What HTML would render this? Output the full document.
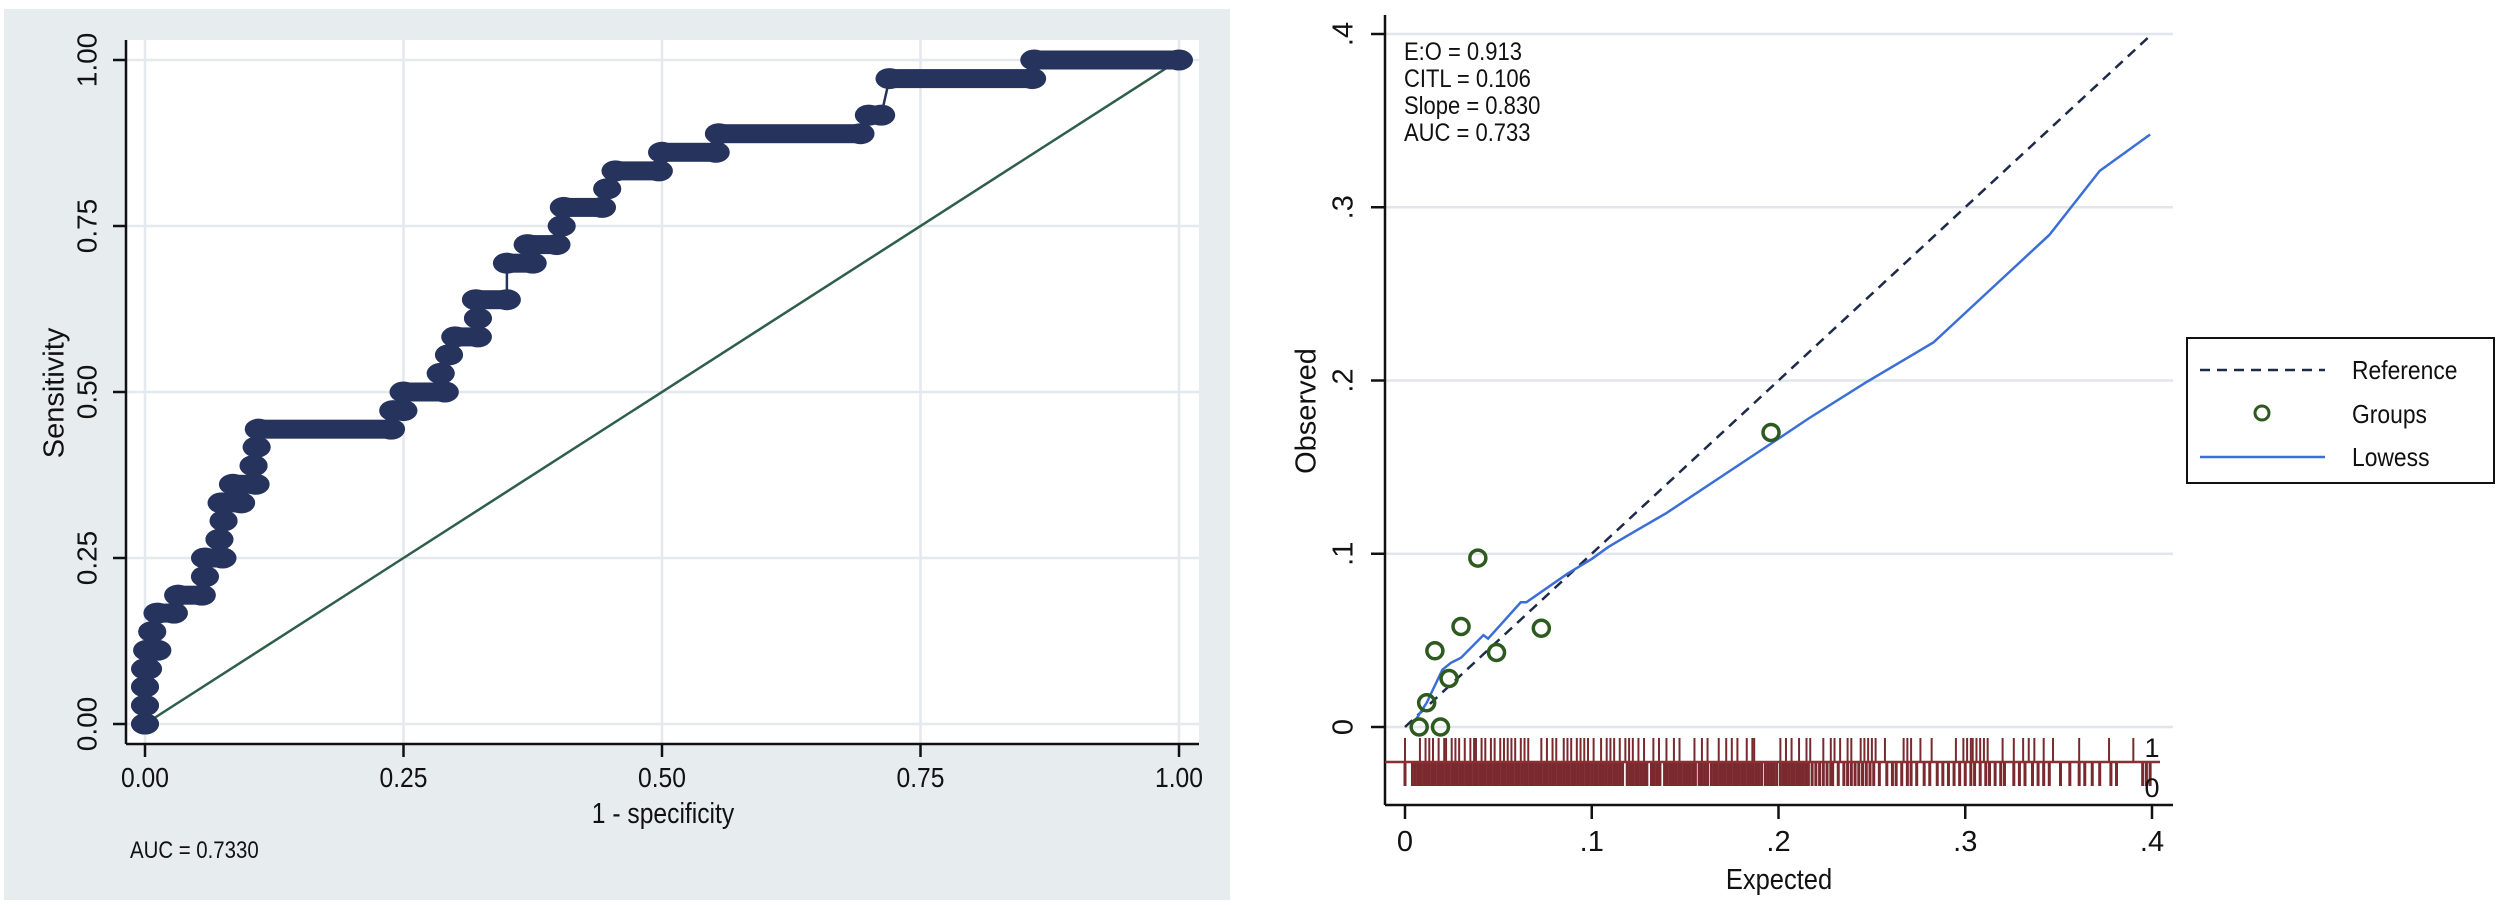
<!DOCTYPE html>
<html><head><meta charset="utf-8"><style>
html,body{margin:0;padding:0;background:#fff;}
svg{display:block;}
text{font-family:"Liberation Sans",sans-serif;fill:#111;}
</style></head><body>
<svg id="fig" width="2508" height="905" viewBox="0 0 2508 905" xmlns="http://www.w3.org/2000/svg">
  <rect x="0" y="0" width="2508" height="905" fill="#fff"/>
  <g id="roc">
    <rect x="4" y="9" width="1226" height="891" fill="#e7ecef"/>
    <rect x="126" y="40" width="1073" height="704" fill="#fff"/>
    <g id="rocGrid"></g>
    <line x1="126" y1="40" x2="126" y2="744" stroke="#111" stroke-width="2.5"/>
    <line x1="126" y1="744" x2="1199" y2="744" stroke="#111" stroke-width="2.5"/>
    <g id="rocTicks"></g>
    <line id="rocDiag" stroke="#2f5e4a" stroke-width="2.5"/>
    <g id="rocCurve"></g>
    <text x="56" y="393" font-size="29" text-anchor="middle" transform="rotate(-90 56 393)" dominant-baseline="middle">Sensitivity</text>
    <text x="663" y="823" font-size="29" text-anchor="middle" transform="translate(663 0) scale(0.85 1) translate(-663 0)">1 - specificity</text>
    <text x="130" y="858" font-size="24" transform="translate(130 0) scale(0.85 1) translate(-130 0)">AUC = 0.7330</text>
  </g>
  <g id="cal">
    <g id="calGrid"></g>
    <line x1="1385" y1="15" x2="1385" y2="805" stroke="#111" stroke-width="2.5"/>
    <line x1="1385" y1="805" x2="2173" y2="805" stroke="#111" stroke-width="2.5"/>
    <g id="calTicks"></g>
    <g id="rug"></g>
    <line id="refLine" stroke="#1e2a4a" stroke-width="2.5" stroke-dasharray="10 7"/>
    <polyline id="lowess" fill="none" stroke="#3b6fd6" stroke-width="2.5"/>
    <g id="groups"></g>
    <g font-size="25">
      <text x="1404" y="60" transform="translate(1404 0) scale(0.88 1) translate(-1404 0)">E:O = 0.913</text>
      <text x="1404" y="87" transform="translate(1404 0) scale(0.88 1) translate(-1404 0)">CITL = 0.106</text>
      <text x="1404" y="114" transform="translate(1404 0) scale(0.88 1) translate(-1404 0)">Slope = 0.830</text>
      <text x="1404" y="141" transform="translate(1404 0) scale(0.88 1) translate(-1404 0)">AUC = 0.733</text>
    </g>
    <text x="1308" y="411" font-size="29" text-anchor="middle" dominant-baseline="middle" transform="rotate(-90 1308 411)">Observed</text>
    <text x="1779" y="889" font-size="29" text-anchor="middle" transform="translate(1779 0) scale(0.88 1) translate(-1779 0)">Expected</text>
    <text x="2152" y="757" font-size="27" text-anchor="middle">1</text>
    <text x="2152" y="797" font-size="27" text-anchor="middle">0</text>
    <g>
      <rect x="2187" y="338" width="307" height="145" fill="#fff" stroke="#111" stroke-width="2"/>
      <line x1="2200" y1="370" x2="2325" y2="370" stroke="#1e2a4a" stroke-width="2.5" stroke-dasharray="10 7"/>
      <text x="2352" y="379" font-size="26" transform="translate(2352 0) scale(0.88 1) translate(-2352 0)">Reference</text>
      <circle cx="2262" cy="413" r="7" fill="none" stroke="#2d5a1e" stroke-width="3"/>
      <text x="2352" y="423" font-size="26" transform="translate(2352 0) scale(0.88 1) translate(-2352 0)">Groups</text>
      <line x1="2200" y1="457" x2="2325" y2="457" stroke="#3b6fd6" stroke-width="2.5"/>
      <text x="2352" y="466" font-size="26" transform="translate(2352 0) scale(0.88 1) translate(-2352 0)">Lowess</text>
    </g>
  </g>
</svg>
<script>
// ---- ROC data ----
const rocTicks = [0, 0.25, 0.5, 0.75, 1];
const rocTickLabels = ["0.00", "0.25", "0.50", "0.75", "1.00"];
const stepTpr      = [0, .028, .056, .083, .111, .139, .167, .194, .222, .25, .278, .306, .333, .361, .389, .417, .444, .472, .5, .528, .556, .583, .611, .639, .694, .722, .75, .778, .806, .833, .861, .889, .917, .972, 1];
const stepFprStart = [0, 0, 0, 0, .002, .007, .012, .032, .058, .058, .072, .076, .074, .085, .105, .108, .11, .24, .25, .286, .294, .3, .322, .32, .35, .37, .403, .405, .447, .455, .5, .555, .7, .72, .86];
const stepFprEnd   = [0, 0, 0, .003, .012, .007, .028, .055, .058, .075, .072, .076, .093, .107, .105, .108, .238, .25, .29, .286, .294, .322, .322, .35, .375, .398, .403, .442, .447, .497, .552, .692, .712, .858, 1];
// ---- Calibration data ----
const calTicks = [0, 0.1, 0.2, 0.3, 0.4];
const calTickLabels = ["0", ".1", ".2", ".3", ".4"];
const groupExpected = [.0076, .019, .0116, .016, .0236, .030, .039, .049, .073, .196];
const groupObserved = [0, 0, .014, .044, .028, .058, .0975, .043, .057, .170];
const lowessX = [.005, .0116, .02, .0245, .030, .042, .0445, .062, .065, .087, .100, .109, .120, .140, .198, .216, .247, .283, .318, .345, .372, .399];
const lowessY = [.003, .014, .033, .037, .040, .053, .051, .072, .072, .0885, .097, .104, .111, .1235, .165, .178, .199, .222, .257, .284, .321, .342];
const eventRug = [0, .008, .011, .013, .015, .018, .021, .022, .025, .027, .029, .032, .035, .037, .038, .041, .043, .046, .048, .051, .053, .055, .057, .059, .062, .064, .066, .073, .076, .079, .081, .085, .087, .089, .092, .094, .096, .098, .101, .105, .108, .110, .112, .115, .118, .120, .122, .125, .128, .133, .136, .140, .144, .147, .155, .159, .162, .168, .172, .175, .178, .183, .186, .187, .201, .204, .207, .211, .215, .217, .224, .228, .230, .233, .237, .239, .244, .246, .248, .250, .252, .257, .267, .269, .271, .276, .282, .295, .299, .301, .303, .304, .306, .308, .310, .312, .320, .326, .331, .334, .337, .342, .347, .361, .377, .390];
const nonEventRug = [0, .004, .0055, .007, .0085, .010, .0115, .013, .0145, .016, .0175, .019, .0205, .022, .0235, .025, .0265, .028, .0295, .031, .0325, .034, .0355, .037, .0385, .040, .0415, .043, .0445, .046, .0475, .049, .0505, .052, .0535, .055, .0565, .058, .0595, .061, .0625, .064, .0655, .067, .0685, .070, .0715, .073, .0745, .076, .0775, .079, .0805, .082, .0835, .085, .0865, .088, .0895, .091, .0925, .094, .0955, .097, .0985, .100, .1015, .103, .1045, .106, .1075, .109, .1105, .112, .1135, .115, .1165, .119, .1205, .122, .1235, .125, .1265, .128, .1295, .132, .1335, .135, .1365, .139, .1405, .142, .1435, .145, .1465, .148, .1495, .151, .1525, .154, .1555, .1575, .159, .1605, .162, .164, .1655, .167, .1685, .170, .1715, .173, .1745, .176, .1775, .179, .1805, .182, .1835, .185, .1865, .188, .1895, .191, .193, .1945, .196, .1975, .199, .201, .2025, .204, .2055, .207, .2085, .210, .2115, .213, .2145, .216, .218, .220, .222, .224, .226, .228, .229, .232, .235, .237, .239, .241, .243, .245, .247, .249, .251, .254, .258, .261, .263, .266, .269, .271, .274, .278, .281, .285, .288, .291, .294, .297, .300, .303, .305, .308, .311, .313, .316, .319, .321, .326, .329, .332, .336, .339, .342, .345, .351, .356, .361, .364, .368, .372, .378, .381, .395, .397, .399];

const NS = "http://www.w3.org/2000/svg";
function mk(tag, attrs, parent) {
  const e = document.createElementNS(NS, tag);
  for (const k in attrs) e.setAttribute(k, attrs[k]);
  parent.appendChild(e);
  return e;
}
const lx = v => 145 + v * 1034;
const ly = v => 724 - v * 664;
const rx = v => 1405 + v * 1867.5;
const ry = v => 727 - v * 1732.5;

// ROC grid, ticks
const rg = document.getElementById('rocGrid');
const rt = document.getElementById('rocTicks');
rocTicks.forEach((t, i) => {
  const gh = mk('line', {x1: 126, x2: 1199, y1: ly(t), y2: ly(t), stroke: '#e3e9ee', 'stroke-width': 2.5}, rg);
  
  
  const gv = mk('line', {x1: lx(t), x2: lx(t), y1: 40, y2: 744, stroke: '#e3e9ee', 'stroke-width': 2.5}, rg);
  
  
  const ty = mk('line', {x1: 113, x2: 126, y1: ly(t), y2: ly(t), stroke: '#111', 'stroke-width': 2.5}, rt);
  
  
  const tx = mk('line', {x1: lx(t), x2: lx(t), y1: 744, y2: 757, stroke: '#111', 'stroke-width': 2.5}, rt);
  
  
  const yl = mk('text', {x: 89, y: ly(t), 'font-size': 28, 'text-anchor': 'middle', 'dominant-baseline': 'middle', transform: `rotate(-90 89 ${ly(t)})`}, rt);
  yl.textContent = rocTickLabels[i];
  
  
  const xl = mk('text', {x: lx(t), y: 787, 'font-size': 28, 'text-anchor': 'middle', transform: `translate(${lx(t)} 0) scale(0.88 1) translate(${-lx(t)} 0)`}, rt);
  xl.textContent = rocTickLabels[i];
  
  
});
const dg = document.getElementById('rocDiag');
dg.setAttribute('x1', lx(0)); dg.setAttribute('y1', ly(0));
dg.setAttribute('x2', lx(1)); dg.setAttribute('y2', ly(1));

// ROC curve
const rc = document.getElementById('rocCurve');
let pts = [];
stepTpr.forEach((t, i) => { pts.push(lx(stepFprStart[i]) + ',' + ly(t)); pts.push(lx(stepFprEnd[i]) + ',' + ly(t)); });
const pl = mk('polyline', {points: pts.join(' '), fill: 'none', stroke: '#26335d', 'stroke-width': 2.5}, rc);


stepTpr.forEach((t, i) => {
  const x1 = lx(stepFprStart[i]), x2 = lx(stepFprEnd[i]), y = ly(t);
  const r = mk('rect', {x: x1, y: y - 9.5, width: Math.max(0, x2 - x1), height: 19, fill: '#26335d'}, rc);
  
  
  [x1, x2].forEach(x => {
    const e = mk('ellipse', {cx: x, cy: y, rx: 14, ry: 10.5, fill: '#26335d'}, rc);
    
    
  });
});

// Calibration grid, ticks
const cg = document.getElementById('calGrid');
const ct = document.getElementById('calTicks');
calTicks.forEach((t, i) => {
  const gh = mk('line', {x1: 1385, x2: 2173, y1: ry(t), y2: ry(t), stroke: '#e0e6ec', 'stroke-width': 2.5}, cg);
  
  
  const ty = mk('line', {x1: 1371, x2: 1385, y1: ry(t), y2: ry(t), stroke: '#111', 'stroke-width': 2.5}, ct);
  
  
  const tx = mk('line', {x1: rx(t), x2: rx(t), y1: 805, y2: 819, stroke: '#111', 'stroke-width': 2.5}, ct);
  
  
  const yl = mk('text', {x: 1345, y: ry(t), 'font-size': 29, 'text-anchor': 'middle', 'dominant-baseline': 'middle', transform: `rotate(-90 1345 ${ry(t)})`}, ct);
  yl.textContent = calTickLabels[i];
  
  
  const xl = mk('text', {x: rx(t), y: 851, 'font-size': 29, 'text-anchor': 'middle'}, ct);
  xl.textContent = calTickLabels[i];
  
  
});

// Rug
const rug = document.getElementById('rug');
nonEventRug.forEach(v => {
  const l = mk('line', {x1: rx(v), x2: rx(v), y1: 762, y2: 786, stroke: '#7a2a2e', 'stroke-width': 3}, rug);
  
  
});
eventRug.forEach(v => {
  const l = mk('line', {x1: rx(v), x2: rx(v), y1: 738, y2: 762, stroke: '#7a2a2e', 'stroke-width': 2}, rug);
  
  
});
const rl = mk('line', {x1: 1385, x2: 2160, y1: 762, y2: 762, stroke: '#8a2f33', 'stroke-width': 2.5}, rug);



// Reference, lowess, groups
const ref = document.getElementById('refLine');
ref.setAttribute('x1', rx(0)); ref.setAttribute('y1', ry(0));
ref.setAttribute('x2', rx(0.4)); ref.setAttribute('y2', ry(0.4));
document.getElementById('lowess').setAttribute('points', lowessX.map((x, i) => rx(x) + ',' + ry(lowessY[i])).join(' '));
const gp = document.getElementById('groups');
groupExpected.forEach((x, i) => {
  const c = mk('circle', {cx: rx(x), cy: ry(groupObserved[i]), r: 8, fill: 'none', stroke: '#2d5a1e', 'stroke-width': 3.5}, gp);
  
  
});
</script>
</body></html>
